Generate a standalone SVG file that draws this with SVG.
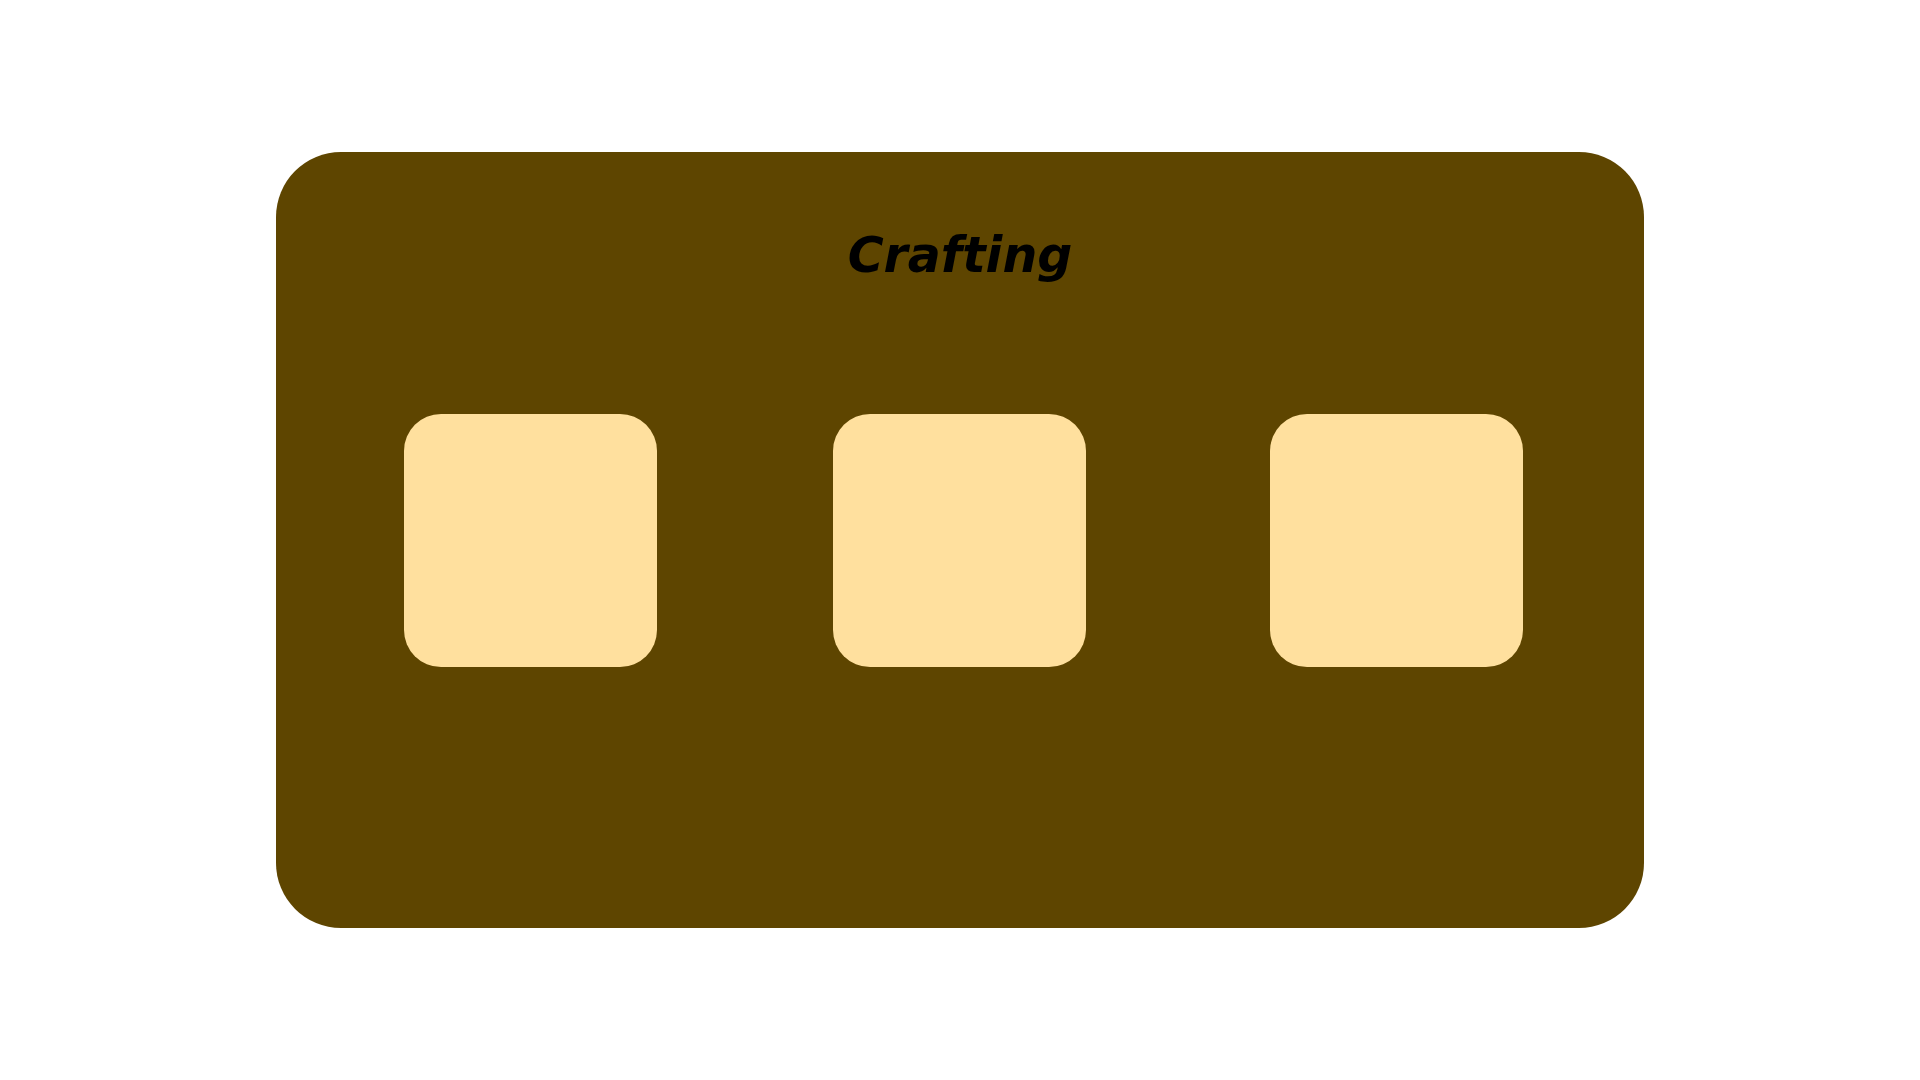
<svg xmlns="http://www.w3.org/2000/svg" width="1920" height="1080" viewBox="0 0 1920 1080">
<style>
.slot{fill:#ffe09e;}
.title{font-family:"DejaVu Sans",sans-serif;font-weight:bold;font-style:italic;font-size:49px;fill:#000;}
</style>
<rect width="1920" height="1080" fill="#ffffff"/>
<g id="crafting">
<rect x="276" y="152" width="1368" height="776" rx="65" ry="65" fill="#5e4500"/>
<text class="title" x="960" y="272" text-anchor="middle">Crafting</text>
</g>
<g id="slot1"><rect class="slot" x="404" y="414" width="253" height="253" rx="37" ry="37"/></g>
<g id="slot2"><rect class="slot" x="833" y="414" width="253" height="253" rx="37" ry="37"/></g>
<g id="slot3"><rect class="slot" x="1270" y="414" width="253" height="253" rx="37" ry="37"/></g>
<g id="connectors"></g>
</svg>
